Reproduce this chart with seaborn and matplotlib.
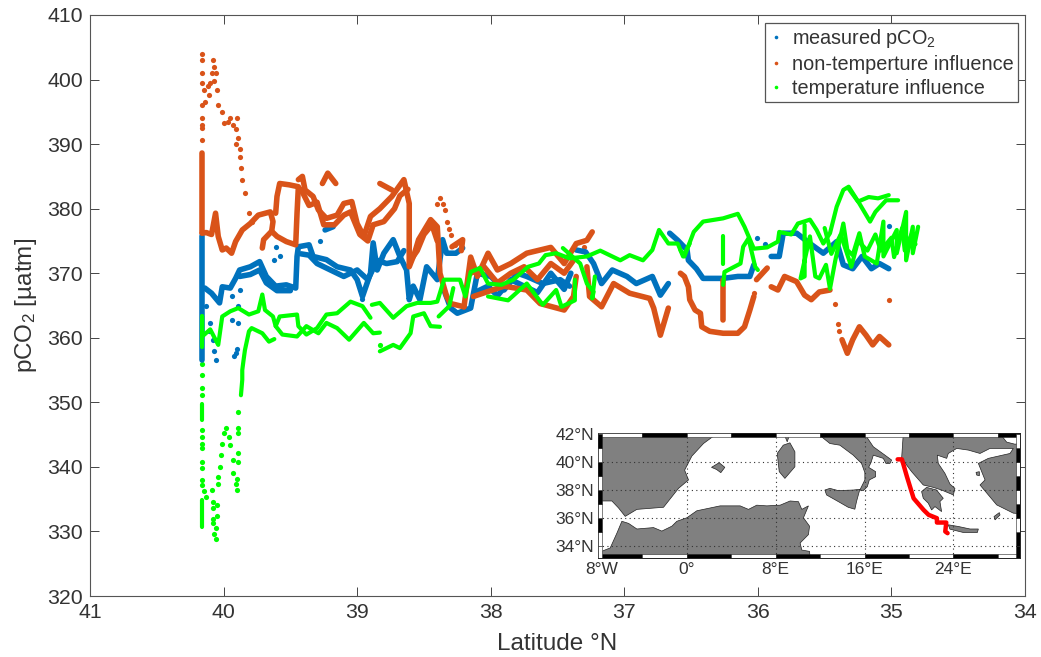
import numpy as np
import pandas as pd
import matplotlib
matplotlib.use("Agg")
import matplotlib.pyplot as plt
from matplotlib.patches import Polygon, Rectangle
from matplotlib.lines import Line2D
import seaborn as sns

# ---------- measured pCO2 (latitude, uatm) ----------
blue_a = [(40.14,367.7),(40.09,366.9),(40.03,365.4),(40.01,367.9),(39.95,367.7),(39.91,369.2),(39.88,370.5),(39.80,371),(39.73,371.8),(39.68,369.5),(39.61,368),(39.53,368.2),(39.46,367.7),(39.45,372.6),(39.44,374.1),(39.36,374.4),(39.33,372.6),(39.23,372.1),(39.15,371),(39.05,370.5),(39.0,369),(38.96,366.4),(38.90,370),(38.88,374.7),(38.85,370.5),(38.80,373.1),(38.73,375.2),(38.68,372.6),(38.63,370.5),(38.61,365.9),(38.58,368),(38.53,365.9),(38.48,371),(38.40,369),(38.36,375.2),(38.33,373.1),(38.26,373.1),(38.21,373.9)]
blue_b = [(38.35,367.4),(38.30,364.6),(38.25,363.8),(38.15,364.6),(38.1,370),(38.0,369.5),(37.90,367.4),(37.8,370),(37.73,369.5),(37.61,368.4),(37.48,369),(37.41,368)]
blue_c = [(37.36,373.6),(37.29,373.3),(37.23,371.5),(37.17,368.4),(37.09,370.5),(36.98,369.5),(36.91,368.4),(36.79,369.5),(36.73,366.6),(36.67,368.4)]
blue_d = [(36.66,376.2),(36.60,375.1),(36.53,373.6),(36.52,372),(36.46,370.7),(36.41,369.2),(36.26,369.2),(36.15,369.5),(36.06,369.5),(36.03,371.3)]
blue_e = [(35.90,372.6),(35.84,372.6),(35.81,376.2),(35.71,376.2),(35.61,374.6),(35.51,373.1),(35.41,374.9),(35.36,371.3),(35.29,370.7),(35.22,372.6),(35.15,370.7),(35.09,371.5),(35.02,370.7)]
blue_f = [(40.16,375.7),(40.16,356.6)]
blue_g = [(39.24,376.7),(39.18,377.2)]
blue_h = [(38.12,367),(38.02,368),(37.95,366.5),(37.85,369),(37.75,368),(37.65,367),(37.55,370),(37.45,367.5),(37.40,370)]
blue_i = [(39.88,369.5),(39.80,369.8),(39.73,370.5),(39.68,368.5),(39.60,367.3),(39.50,367.3)]
blue_j = [(39.42,373),(39.36,372.8),(39.30,371.5),(39.20,370.5),(39.10,369.5),(39.0,370.5),(38.92,369),(38.85,372),(38.78,371.5),(38.70,371.8),(38.65,373.5)]
blue_dots = [(40.13,364.9),(40.10,362.3),(40.08,359.7),(40.06,356.6),(40.11,361),(40.07,358),(39.94,366.4),(39.94,362.8),(39.89,362.3),(39.91,357.6),(39.90,358.2),(39.92,357.2),(39.88,367.4),(39.89,364.9),(39.61,374.1),(39.58,372.6),(39.62,372),(36.01,375.4),(35.95,374.6),(35.02,377.3),(39.28,375),(38.96,366)]

# ---------- non-temperature influence ----------
orange_a = [(40.16,376.2),(40.13,376.3),(40.09,376),(40.06,379.3),(40.04,375.7),(40.01,373.6),(39.98,373.9),(39.94,373.1),(39.91,374.9),(39.86,376.7),(39.80,377.7),(39.74,379),(39.65,379.5),(39.63,378),(39.64,376.5),(39.70,375.2),(39.71,373.9)]
orange_b = [(39.64,376.5),(39.60,375.7),(39.53,374.9),(39.46,374.4),(39.45,379.3),(39.44,383.4),(39.51,383.7),(39.58,383.9),(39.60,381.9),(39.61,379.3)]
orange_c = [(39.44,384.5),(39.41,385),(39.39,382.9),(39.33,381.9),(39.29,379.8),(39.23,378.5),(39.15,379),(39.10,380.8),(39.04,381.1),(39.0,377.7),(38.95,375.7),(38.90,378.8),(38.83,380),(38.74,381.9),(38.65,384.5),(38.61,380.8),(38.61,371),(38.57,373.1),(38.54,375.2),(38.45,378.3),(38.40,377.2),(38.38,370),(38.33,366.4),(38.30,365.3),(38.20,364.8)]
orange_d = [(38.83,383.9),(38.74,382.9)]
orange_e = [(39.26,383.9),(39.22,385.5),(39.16,383.9)]
orange_f = [(38.29,374.1),(38.21,375.2),(38.22,373.5)]
orange_g = [(38.20,364.8),(38.15,372.5),(38.10,369.5),(38.02,373.1),(37.95,370.5),(37.85,371.5),(37.73,373.1),(37.55,374),(37.45,371.5),(37.36,374.6),(37.28,375.1),(37.24,376.4)]
orange_h = [(38.13,366.4),(37.90,368),(37.73,367.4),(37.63,365.3),(37.45,364.3),(37.38,366.4),(37.36,369.5)]
orange_i = [(37.28,371),(37.26,366.4),(37.17,364.8),(37.08,368.4),(36.96,366.9),(36.81,366.1),(36.78,364.6),(36.73,360.4),(36.67,364.6)]
orange_j = [(36.58,370),(36.55,369.5),(36.52,367.9),(36.51,365.9),(36.47,364.3),(36.43,363.8),(36.42,361.7),(36.36,361),(36.26,360.7),(36.15,360.7),(36.10,361.7),(36.06,364.3),(36.03,366.4)]
orange_k = [(36.26,369),(36.26,362.7)]
orange_l = [(36.01,369),(35.93,370.8)]
orange_m = [(35.90,367.9),(35.85,367.4),(35.80,369.5),(35.71,368.7),(35.65,366.6),(35.60,365.9),(35.54,367.1),(35.46,367.4)]
orange_n = [(35.37,359.7),(35.33,357.6),(35.29,359.7),(35.24,361.7),(35.19,360.4),(35.14,358.9),(35.09,360.2),(35.02,358.9)]
orange_o = [(40.16,388.6),(40.16,376.2)]
orange_p = [(38.15,370),(38.05,371),(37.95,368.5),(37.85,370),(37.75,371),(37.65,369),(37.55,371.5),(37.45,370),(37.38,372)]
orange_q = [(39.42,383),(39.36,380.5),(39.30,381),(39.25,377.5),(39.17,377.5),(39.10,379),(39.05,379.5),(38.98,376),(38.92,375),(38.88,377.5),(38.80,378),(38.72,380),(38.68,382),(38.62,383)]
orange_r = [(38.60,372),(38.55,373.5),(38.50,376),(38.44,377.5),(38.40,375)]
orange_dots = [(40.16,404),(40.16,403),(40.16,401),(40.15,398.4),(40.16,399.5),(40.14,396.6),(40.11,397.6),(40.12,399),(40.10,399.4),(40.09,401),(40.08,403),(40.07,402),(40.06,401),(40.07,399.8),(40.05,398.4),(40.04,396),(40.01,395),(40.0,393.2),(39.97,393.5),(39.95,394),(39.93,393),(39.91,392.4),(39.90,394),(39.89,391),(39.91,390),(39.88,389.3),(39.88,388),(39.87,386.3),(39.86,384.5),(39.84,382.4),(39.81,379.3),(39.79,378),(40.16,396),(40.16,394),(40.16,393),(40.16,392.5),(40.16,390.7),(38.40,380.8),(38.38,381.6),(38.36,380.7),(38.34,379.8),(38.33,378),(38.31,376.8),(38.30,375.9),(38.27,374.4),(35.42,365.3),(35.40,362.2),(35.39,361),(36.03,367),(35.02,365.9),(37.30,374)]

# ---------- temperature influence ----------
green_a = [(40.16,363.3),(40.16,360.2),(40.10,361.3),(40.04,358.9),(40.01,363.3),(39.95,364.1),(39.89,364.6),(39.81,363.6),(39.74,364.1),(39.71,366.7),(39.69,364.3),(39.63,363.3),(39.61,361.8),(39.56,360.5),(39.45,360.2),(39.38,361.8),(39.29,360.7),(39.23,362.3),(39.15,361.5),(39.06,359.7),(38.95,362.3),(38.88,360.7),(38.83,360.8)]
green_b = [(39.61,361.8),(39.58,363.3),(39.45,363.6),(39.44,361.8),(39.38,360.5),(39.30,361.5),(39.23,363.6),(39.15,363.8),(39.05,365.6),(38.96,364.9),(38.90,363.1)]
green_c = [(38.89,365.1),(38.83,365.4),(38.73,363.1),(38.63,364.9),(38.55,365.4),(38.45,365.4),(38.40,365.6),(38.35,369),(38.23,369),(38.19,366.4),(38.15,370.2),(38.08,370.8),(38.02,368.4),(37.92,368.2),(37.83,369),(37.72,371),(37.64,371.5),(37.59,372.8),(37.51,373.1),(37.41,372.3),(37.28,372.6),(37.18,373.5),(37.03,372),(36.96,372.8),(36.86,372),(36.79,373.6),(36.74,376.7),(36.67,374.6),(36.60,374.6),(36.56,372.6),(36.51,374.6)]
green_d = [(38.83,357.9),(38.73,358.9),(38.68,358.4),(38.60,360.7),(38.58,363.3),(38.50,363.8),(38.45,361.8),(38.38,361.7)]
green_e = [(38.39,363.3),(38.31,364.9),(38.28,367.7)]
green_f = [(38.02,366.4),(37.87,365.8),(37.73,368.4),(37.61,365.1),(37.51,367.4),(37.47,364.8),(37.37,365.8),(37.37,369)]
green_g = [(37.46,373.9),(37.33,371.5),(37.28,368.4),(37.23,367.1),(37.24,366.1),(37.22,369.5)]
green_h = [(36.58,373.6),(36.55,372.6),(36.48,376.4),(36.41,378),(36.26,378.5),(36.15,379.2),(36.10,377.2),(36.03,373.8),(35.93,374),(35.85,374.9),(35.84,376.4),(35.75,376),(35.70,377.7),(35.61,378.3),(35.56,376.7),(35.51,374.6),(35.46,376.2),(35.41,380.3),(35.36,382.9),(35.32,383.4),(35.24,380.8),(35.16,378),(35.12,379.5),(35.04,381.3),(34.95,381.3)]
green_i = [(35.32,383.1),(35.25,381.1),(35.17,381.8),(35.10,381.6),(35.02,382.1)]
green_j = [(36.26,375.7),(36.26,371.5)]
green_k = [(36.26,368.2),(36.25,370.2),(36.13,371.5),(36.11,374.1),(36.07,375.4),(36.02,371),(36.0,370.5)]
green_l = [(35.65,377.5),(35.65,369.5),(35.68,369.2),(35.61,375.7),(35.57,369.5),(35.54,369.2),(35.49,371.3),(35.46,367.6),(35.42,372),(35.36,377.7),(35.33,373.6),(35.29,372.8),(35.24,376.2),(35.20,372.6),(35.11,371.5),(35.06,378),(35.06,372.6),(34.96,376.7),(34.96,373.1),(34.89,379.5),(34.89,372),(34.84,377.2),(34.84,373.1),(34.80,377.2)]
green_m = [(40.16,363.3),(40.16,358.6)]
green_n = [(40.16,334.9),(40.16,330.7)]
green_o = [(40.16,349.8),(40.16,347.3)]
green_p = [(39.87,351.1),(39.86,353.5),(39.86,355),(39.85,356.6),(39.84,358.1),(39.81,361),(39.79,361.5),(39.71,360.7),(39.66,359.4),(39.62,359.8)]
green_q = [(35.50,377),(35.45,373),(35.38,376),(35.30,371),(35.25,375),(35.18,373.5),(35.12,376),(35.08,373.5),(35.0,375.5),(34.98,372.5),(34.92,377),(34.90,373.5),(34.85,376),(34.82,374.5)]
green_dots = [(40.16,356),(40.16,354.2),(40.16,352.2),(40.16,351.1),(40.16,345.7),(40.16,344.7),(40.16,343.6),(40.16,342.9),(40.16,340.8),(40.16,339.8),(40.16,338),(40.16,337.2),(40.15,336.2),(40.13,335.4),(40.09,336.4),(40.08,334.6),(40.05,334.1),(40.08,333.7),(40.05,332.4),(40.08,332),(40.08,331.3),(40.06,330.5),(40.07,329.6),(40.06,328.8),(40.04,337.4),(40.04,338.5),(40.03,340),(40.02,341.8),(40.01,343.6),(40.0,345.2),(39.98,346.1),(39.96,344.7),(39.95,343.4),(39.93,341.1),(39.93,339),(39.90,338.2),(39.91,337.4),(39.90,336.4),(39.89,340.7),(39.89,342.2),(39.89,345.3),(39.89,346),(39.89,348.5),(38.83,358.9)]

series_names = ["measured pCO$_2$", "non-temperture influence", "temperature influence"]
series_colors = ["#0072BD", "#D95319", "#00FF00"]
blue_lines = [blue_a, blue_b, blue_c, blue_d, blue_e, blue_f, blue_g, blue_h, blue_i, blue_j]
orange_lines = [orange_a, orange_b, orange_c, orange_d, orange_e, orange_f, orange_g, orange_h,
                orange_i, orange_j, orange_k, orange_l, orange_m, orange_n, orange_o, orange_p, orange_q, orange_r]
green_lines = [green_a, green_b, green_c, green_d, green_e, green_f, green_g, green_h, green_i,
               green_j, green_k, green_l, green_m, green_n, green_o, green_p, green_q]
all_dots = [blue_dots, orange_dots, green_dots]
all_lines = [blue_lines, orange_lines, green_lines]

x_ticks = [41, 40, 39, 38, 37, 36, 35, 34]
y_ticks = [320, 330, 340, 350, 360, 370, 380, 390, 400, 410]

# ---------- inset map (lon, lat) ----------
iberia = [(-8,42),(2.7,42),(1.5,41.3),(0.45,40.4),(-0.2,39.4),(0.15,38.7),(-0.75,38.1),(-1.35,37.5),(-2.1,36.75),(-4.5,36.6),(-5.55,36.1),(-6.15,36.7),(-6.75,37.2),(-8,37.2)]
africa = [(-8,33.5),(-6.9,33.85),(-6.3,34.9),(-5.85,35.75),(-5.25,35.6),(-4.5,35.2),(-3,35.3),(-2.25,35.05),(-1.35,35.4),(-0.9,35.75),(0,36),(0.9,36.5),(3,36.85),(4.8,36.85),(5.55,36.6),(6.3,36.9),(7.2,36.85),(8.4,36.9),(9.3,37.2),(10.05,37.15),(10.35,36.6),(10.95,36.85),(10.5,36),(11.05,35.4),(10.95,34.8),(10.2,34.2),(10.35,33.7),(11.05,33.6),(11.1,33.1),(-8,33.1)]
italy = [(12,42),(16.0,42),(16.79,41.07),(17.84,40.47),(18.44,40.12),(18.29,39.88),(17.93,39.88),(17.69,40.24),(16.79,40.47),(16.58,39.93),(16.37,39.6),(17.0,39.29),(17.0,38.93),(16.43,38.7),(16.25,38.22),(15.89,37.94),(15.58,37.98),(16.03,38.7),(16.03,39.22),(15.73,39.88),(14.98,40.47),(13.78,41.18),(12.88,41.3),(12.13,41.78)]
sicily = [(12.43,37.98),(12.88,38.1),(13.63,37.94),(14.98,37.98),(15.58,38.03),(15.28,37.16),(15.13,36.61),(14.53,36.75),(13.63,37.16),(12.58,37.63)]
mallorca = [(2.22,39.6),(2.91,39.93),(3.42,39.6),(3.06,39.22),(2.67,39.45)]
sardinia = [(8.14,40.59),(8.68,41.18),(9.28,41.35),(9.73,40.71),(9.73,39.64),(8.83,38.81),(8.32,39.29)]
corsica = [(8.74,42),(9.28,42),(9.04,41.42)]
balkans = [(19.49,42),(19.34,40.24),(20.24,39.29),(21.29,38.34),(22.19,38.17),(22.94,37.98),(24.0,37.63),(24.14,38.1),(23.7,38.4),(23.24,39.17),(22.64,39.88),(22.55,40.47),(23.4,40.24),(23.54,40.59),(24.3,40.95),(25.35,40.83),(26.4,40.59),(27.3,40.95),(29.4,40.95),(29.1,40.59),(27.15,40.24),(26.25,39.88),(26.55,39.29),(26.85,38.7),(26.4,38.34),(27.15,37.63),(27.9,36.92),(29.4,36.33),(30,36.3),(30,41.3),(29.55,41.25),(28.8,41.4),(28.2,42)]
peloponnese = [(21.14,37.87),(21.59,38.17),(22.49,37.98),(23.09,37.39),(22.79,37.16),(22.94,36.44),(22.34,36.8),(22.04,36.56),(21.74,37.04),(21.29,37.39)]
crete = [(23.54,35.5),(24.44,35.38),(25.5,35.2),(26.25,35.2),(26.16,34.95),(24.9,34.95),(23.69,35.19)]
rhodes = [(28.14,36.37),(28.2,36.2),(27.75,35.85),(27.66,36.09)]
lesbos = [(26.04,39.24),(26.34,39.29),(26.34,39.0),(26.1,39.05)]
land_shapes = [iberia, africa, italy, sicily, mallorca, sardinia, corsica, balkans, peloponnese, crete, rhodes, lesbos]
ship_lon = [18.98,19.37,19.82,20.42,21.32,21.77,22.52,22.52,23.36,23.27,23.48]
ship_lat = [40.17,40.17,38.93,37.39,36.56,36.21,35.97,35.66,35.66,35.02,34.9]
map_lon_ticks = [-8, 0, 8, 16, 24]
map_lon_labels = ["8°W", "0°", "8°E", "16°E", "24°E"]
map_lat_ticks = [34, 36, 38, 40, 42]
map_lat_labels = ["34°N", "36°N", "38°N", "40°N", "42°N"]

# ---------- frames ----------
rows = []
seg = 0
for name, groups in zip(series_names, all_lines):
    for g in groups:
        for lat, val in g:
            rows.append((name, seg, lat, val))
        seg += 1
df_lines = pd.DataFrame(rows, columns=["series", "segment", "lat", "pco2"])
df_dots = pd.DataFrame([(n, lat, val) for n, d in zip(series_names, all_dots) for lat, val in d],
                       columns=["series", "lat", "pco2"])
palette = dict(zip(series_names, series_colors))
line_widths = dict(zip(series_names, [4.0, 4.0, 3.0]))

# ---------- style ----------
sns.set_theme(style="white")
plt.rcParams["font.family"] = ["Liberation Sans", "DejaVu Sans"]
plt.rcParams["mathtext.fontset"] = "custom"
plt.rcParams["mathtext.rm"] = "Liberation Sans"
plt.rcParams["mathtext.it"] = "Liberation Sans"
plt.rcParams["mathtext.bf"] = "Liberation Sans"
W, H = 1041, 657
INK = "#333333"
fig = plt.figure(figsize=(W / 100, H / 100), dpi=100, facecolor="white")
ax = fig.add_axes([90 / W, 1 - 596 / H, 935 / W, 581 / H])

for name in series_names:
    sub = df_lines[df_lines.series == name]
    sns.lineplot(data=sub, x="lat", y="pco2", units="segment", estimator=None, sort=False,
                 color=palette[name], lw=line_widths[name], solid_capstyle="round", solid_joinstyle="round",
                 legend=False, ax=ax, errorbar=None)
    sns.scatterplot(data=df_dots[df_dots.series == name], x="lat", y="pco2", color=palette[name],
                    s=14, linewidth=0, legend=False, ax=ax)

ax.set_xlim(41, 34)
ax.set_ylim(320, 410)
ax.set_xticks(x_ticks)
ax.set_yticks(y_ticks)
ax.tick_params(direction="in", length=6.8, width=0.7, top=True, right=True, bottom=True, left=True,
               color="#444444", labelcolor=INK, labelsize=15.3, pad=5)
for s in ax.spines.values():
    s.set_visible(True)
    s.set_color("#555555")
    s.set_linewidth(0.8)
ax.set_xlabel("Latitude °N", fontsize=17.5, color=INK, labelpad=8)
ax.set_ylabel("pCO$_2$ [µatm]", fontsize=17.5, color=INK, labelpad=6)

handles = [Line2D([], [], ls="", marker="o", ms=2.6, mew=0, color=c) for c in series_colors]
leg = ax.legend(handles, series_names, loc="upper left",
                bbox_to_anchor=(765 / W, 1 - 105 / H, 253 / W, 82.3 / H),
                bbox_transform=fig.transFigure, mode="expand", borderaxespad=0, fontsize=14.3,
                frameon=True, fancybox=False, framealpha=1, edgecolor="#555555",
                handlelength=0.7, handletextpad=0.45, labelspacing=0.25, borderpad=0.2)
leg.get_frame().set_linewidth(0.9)
for t in leg.get_texts():
    t.set_color(INK)

# ---------- inset ----------
m = fig.add_axes([598 / W, 1 - 558 / H, 422 / W, 125 / H], zorder=5)
m.set_facecolor("white")
m.set_xlim(-8, 30)
m.set_ylim(33.13, 42.05)
for shape in land_shapes:
    m.add_patch(Polygon(shape, closed=True, facecolor="#808080", edgecolor="#222222", lw=0.5, zorder=2))
for lon in map_lon_ticks[1:]:
    m.axvline(lon, color="#333333", lw=0.8, ls=(0, (1, 3)), zorder=3)
for lat in map_lat_ticks[:-1]:
    m.axhline(lat, color="#333333", lw=0.8, ls=(0, (1, 3)), zorder=3)
sns.lineplot(x=ship_lon, y=ship_lat, sort=False, estimator=None, color="#FF0000", lw=3.2, ax=m, zorder=4,
             solid_capstyle="round")

bw, bh = 0.36, 0.28
for i, lon0 in enumerate(range(-8, 30, 4)):
    lon1 = min(lon0 + 4, 30)
    top_c = "white" if i % 2 == 0 else "black"
    bot_c = "black" if i % 2 == 0 else "white"
    m.add_patch(Rectangle((lon0, 42.05 - bh), lon1 - lon0, bh, fc=top_c, ec="#222222", lw=0.4, zorder=6))
    m.add_patch(Rectangle((lon0, 33.13), lon1 - lon0, bh, fc=bot_c, ec="#222222", lw=0.4, zorder=6))
for lat0 in range(33, 42):
    y0, y1 = max(lat0, 33.13), min(lat0 + 1, 42.05)
    left_c = "black" if lat0 in (35, 37, 39, 41) else "white"
    right_c = "white" if left_c == "black" else "black"
    m.add_patch(Rectangle((-8, y0), bw, y1 - y0, fc=left_c, ec="#222222", lw=0.4, zorder=6))
    m.add_patch(Rectangle((30 - bw, y0), bw, y1 - y0, fc=right_c, ec="#222222", lw=0.4, zorder=6))

m.set_xticks([-7.65, 0, 8, 16, 24])
m.set_xticklabels(map_lon_labels)
m.set_yticks(map_lat_ticks)
m.set_yticklabels(map_lat_labels)
m.set_xlabel("")
m.set_ylabel("")
m.tick_params(length=0, labelsize=12.5, colors=INK, pad=3)
for s in m.spines.values():
    s.set_visible(True)
    s.set_color("#222222")
    s.set_linewidth(0.7)

fig.savefig("out.png", dpi=100, facecolor="white")
